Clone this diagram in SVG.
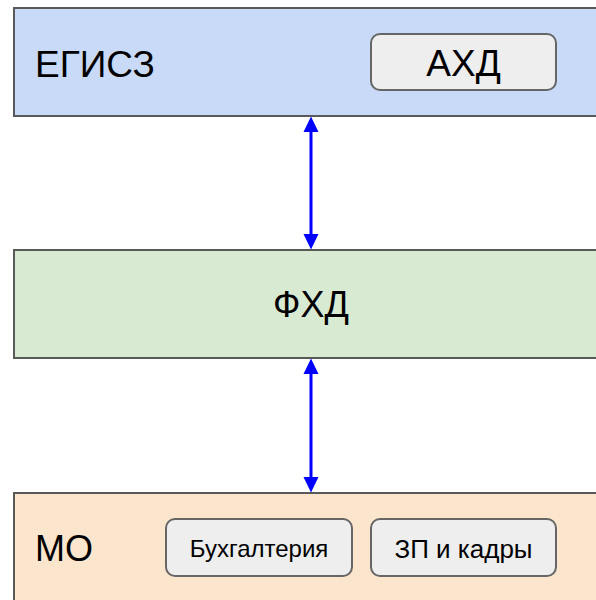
<svg xmlns="http://www.w3.org/2000/svg" width="596" height="600" viewBox="0 0 596 600">
<style>
.t{font-family:"Liberation Sans",Arial,sans-serif;fill:#000}
.inner{fill:#eeeeee;stroke:#666666;stroke-width:2}
.con{stroke:#0000ff;stroke-width:3;fill:none}
.head{fill:#0000ff}
</style>
<rect width="596" height="600" fill="#ffffff"/>
<g id="egisz">
<rect x="14" y="8" width="610" height="108" fill="#c9daf8" stroke="#595959" stroke-width="2"/>
<text class="t" x="35" y="77" font-size="37">ЕГИСЗ</text>
</g>
<g id="ahd">
<rect class="inner" x="371" y="34" width="185" height="56" rx="9"/>
<text class="t" x="463.5" y="76" font-size="37" text-anchor="middle">АХД</text>
</g>
<g id="fhd">
<rect x="14" y="250" width="610" height="108" fill="#d9ead3" stroke="#595959" stroke-width="2"/>
<text class="t" x="311" y="317" font-size="36" text-anchor="middle">ФХД</text>
</g>
<g id="mo">
<rect x="14" y="493" width="610" height="130" fill="#fce5cd" stroke="#595959" stroke-width="2"/>
<text class="t" x="35" y="561" font-size="36">МО</text>
</g>
<g id="buh">
<rect class="inner" x="166" y="519" width="186" height="57" rx="9"/>
<text class="t" x="259" y="557" font-size="24" text-anchor="middle">Бухгалтерия</text>
</g>
<g id="zp">
<rect class="inner" x="371" y="519" width="185" height="57" rx="9"/>
<text class="t" x="463.5" y="558" font-size="26" text-anchor="middle">ЗП и кадры</text>
</g>
<g id="connectors">
<line class="con" x1="311" y1="128" x2="311" y2="238"/>
<polygon class="head" points="311,116.5 303.5,132 318.5,132"/>
<polygon class="head" points="311,249.5 303.5,234 318.5,234"/>
<line class="con" x1="311" y1="370" x2="311" y2="481"/>
<polygon class="head" points="311,358.5 303.5,374 318.5,374"/>
<polygon class="head" points="311,492.5 303.5,477 318.5,477"/>
</g>
</svg>
